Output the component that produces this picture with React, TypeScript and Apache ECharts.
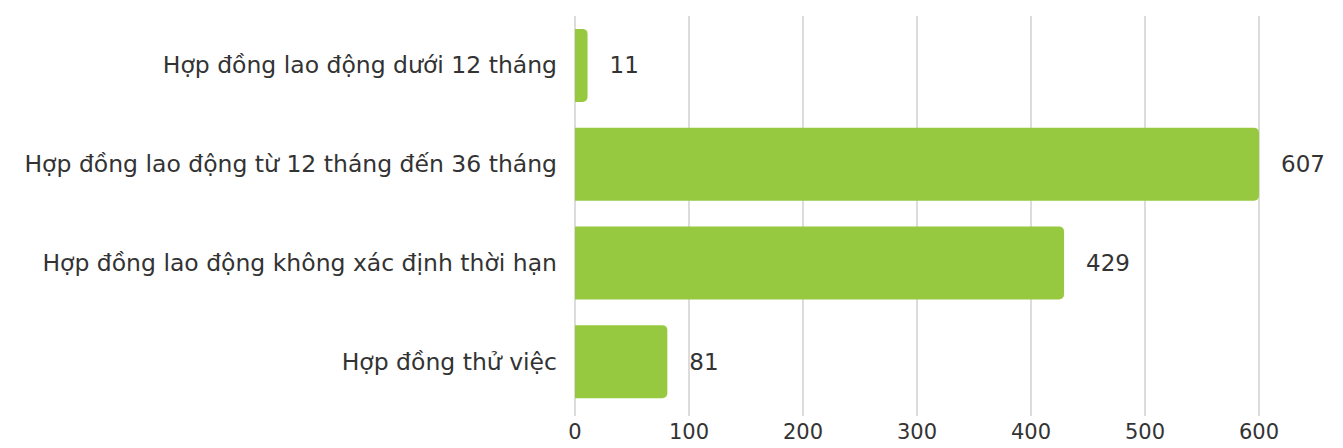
import React, { useEffect, useRef } from "react";
import * as echarts from "echarts";

const categories: string[] = [
  "Hợp đồng lao động dưới 12 tháng",
  "Hợp đồng lao động từ 12 tháng đến 36 tháng",
  "Hợp đồng lao động không xác định thời hạn",
  "Hợp đồng thử việc",
];
const values: number[] = [11, 607, 429, 81];
const xTicks: number[] = [0, 100, 200, 300, 400, 500, 600];

export default function App() {
  const ref = useRef<HTMLDivElement>(null);
  useEffect(() => {
    if (!ref.current) return;
    const chart = echarts.init(ref.current, undefined, { renderer: "svg" });
    const font = "DejaVu Sans, Noto Sans, sans-serif";
    chart.setOption({
      animation: false,
      grid: { left: 575, right: 84, top: 16, bottom: 37, containLabel: false },
      xAxis: {
        type: "value",
        min: xTicks[0],
        max: xTicks[xTicks.length - 1],
        interval: 100,
        axisLine: { show: false },
        axisTick: { show: true, length: 5, lineStyle: { color: "#d0d0d0", width: 1.5 } },
        splitLine: { show: true, lineStyle: { color: "#d0d0d0", width: 1.5 } },
        axisLabel: { color: "#333333", fontSize: 21, fontFamily: font, margin: 10 },
      },
      yAxis: {
        type: "category",
        data: categories,
        inverse: true,
        axisLine: { show: false },
        axisTick: { show: false },
        axisLabel: { color: "#333333", fontSize: 23.5, fontFamily: font, margin: 18 },
      },
      series: [
        {
          type: "bar",
          data: values,
          barWidth: 73,
          itemStyle: { color: "#96C93F", borderRadius: [0, 5, 5, 0] },
          label: {
            show: true,
            position: "right",
            distance: 22,
            color: "#333333",
            fontSize: 23,
            fontFamily: font,
          },
        },
      ],
    });
    return () => chart.dispose();
  }, []);
  return (
    <div
      ref={ref}
      style={{ position: "absolute", left: 0, top: 0, width: 1343, height: 448 }}
    />
  );
}
